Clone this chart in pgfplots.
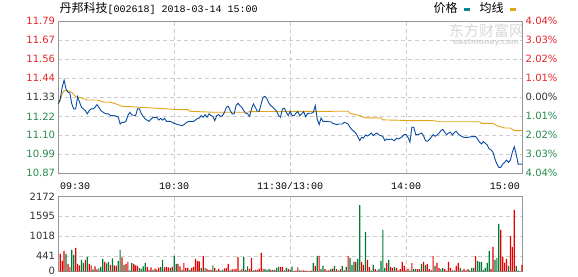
\documentclass[border=0pt]{standalone}
\usepackage{fontspec}
\setmainfont{DejaVu Sans}
\newfontfamily\cjk{Noto Sans CJK SC}
\newfontfamily\mono{Liberation Mono}
\usepackage{pgfplots}
\pgfplotsset{compat=1.18}
\definecolor{upred}{RGB}{230,36,42}
\definecolor{dngreen}{RGB}{38,138,78}
\definecolor{midgray}{RGB}{51,51,51}
\definecolor{barred}{RGB}{232,0,0}
\definecolor{bargreen}{RGB}{0,122,55}
\definecolor{priceblue}{RGB}{10,75,160}
\definecolor{avggold}{RGB}{227,163,26}
\definecolor{legteal}{RGB}{0,140,140}
\definecolor{gridgray}{RGB}{205,205,205}
\definecolor{framegray}{RGB}{150,150,150}
\definecolor{wmgray}{RGB}{215,215,215}
\pgfplotsset{
  panel/.style={
    anchor=south west, width=463.7bp, scale only axis,
    xmin=0, xmax=240, xtick={60,120,180}, xticklabels={},
    grid=major,
    major grid style={gridgray, line width=0.8bp, dash pattern=on 4bp off 3bp},
    major tick length=0pt,
    axis line style={framegray, line width=1bp},
    yticklabel style={font=\fontsize{10bp}{12bp}\selectfont, anchor=east, inner sep=0pt, xshift=-3bp},
    clip=false,
  }
}
\begin{document}
\begin{tikzpicture}[x=1bp,y=1bp]
\path[use as bounding box] (0,0) rectangle (578,276);
% watermark
\node[text=wmgray, font=\cjk\fontsize{15bp}{15bp}\selectfont, inner sep=0pt] at (486.5,245) {东方财富网};
\node[text=wmgray, font=\bfseries\fontsize{7.5bp}{8bp}\selectfont, inner sep=0pt] at (486,233.5) {eastmoney.com};
% price panel
\begin{axis}[panel,
  at={(58.3bp,102.7bp)}, height=152bp,
  ymin=10.8723, ymax=11.7877,
  ytick={10.8723,10.9867,11.1012,11.2156,11.33,11.4444,11.5589,11.6733,11.7877},
  yticklabels={\textcolor{dngreen}{10.87},\textcolor{dngreen}{10.99},\textcolor{dngreen}{11.10},\textcolor{dngreen}{11.22},\textcolor{midgray}{11.33},\textcolor{upred}{11.44},\textcolor{upred}{11.56},\textcolor{upred}{11.67},\textcolor{upred}{11.79}},
]
\addplot[avggold, line width=0.9bp] coordinates {
(0,11.290)(1,11.310)(2,11.350)(3,11.370)(5,11.370)(7,11.360)(9,11.334)(12,11.326)(15,11.314)(20,11.314)(24,11.300)(27,11.300)(30,11.290)(33,11.276)(42,11.270)(51,11.264)(62,11.256)(67,11.256)(68,11.246)(80,11.240)(98,11.240)(99,11.244)(150,11.246)(151,11.234)(156,11.220)(159,11.206)(167,11.206)(168,11.194)(182,11.190)(195,11.189)(196,11.183)(218,11.183)(219,11.173)(225,11.173)(227,11.159)(231,11.145)(234,11.145)(236,11.129)(240,11.129)
};
\addplot[priceblue, line width=0.9bp] coordinates {
(0,11.290)(1,11.320)(2,11.390)(3,11.434)(4,11.380)(5,11.360)(6,11.356)(7,11.290)(8,11.260)(9,11.260)
(10,11.334)(11,11.300)(12,11.270)(13,11.260)(14,11.250)(15,11.230)(16,11.250)(17,11.260)(18,11.260)(19,11.270)
(20,11.286)(21,11.270)(22,11.250)(24,11.234)(25,11.230)(26,11.230)(27,11.220)(29,11.220)(30,11.215)(31,11.213)
(32,11.169)(33,11.179)(34,11.179)(35,11.185)(36,11.220)(37,11.240)(38,11.224)(40,11.220)(41,11.260)(42,11.260)
(43,11.230)(44,11.215)(45,11.199)(47,11.185)(48,11.199)(49,11.209)(51,11.209)(52,11.193)(53,11.203)(54,11.193)
(55,11.203)(56,11.185)(58,11.185)(60,11.173)(62,11.165)(63,11.163)(64,11.159)(65,11.165)(66,11.175)(67,11.183)
(68,11.185)(70,11.185)(71,11.193)(72,11.203)(73,11.205)(74,11.220)(75,11.210)(76,11.226)(77,11.210)(78,11.230)
(79,11.220)(80,11.214)(81,11.189)(82,11.220)(83,11.226)(84,11.214)(85,11.220)(86,11.240)(87,11.270)(88,11.276)
(89,11.250)(90,11.230)(91,11.230)(92,11.280)(93,11.294)(94,11.280)(95,11.270)(96,11.250)(97,11.234)(98,11.230)
(99,11.215)(100,11.260)(101,11.290)(102,11.270)(103,11.246)(104,11.246)(105,11.290)(106,11.330)(107,11.336)(108,11.320)
(109,11.294)(110,11.280)(111,11.270)(112,11.258)(113,11.246)(114,11.220)(115,11.210)(116,11.260)(117,11.264)(118,11.240)
(119,11.220)(120,11.246)(121,11.220)(122,11.220)(123,11.234)(124,11.244)(125,11.220)(126,11.230)(127,11.244)(128,11.213)
(129,11.232)(130,11.234)(131,11.234)(132,11.240)(133,11.280)(134,11.199)(135,11.165)(136,11.205)(137,11.185)(138,11.185)
(139,11.185)(140,11.183)(141,11.183)(142,11.173)(143,11.170)(144,11.165)(145,11.169)(146,11.169)(147,11.169)(148,11.179)
(149,11.175)(150,11.169)(151,11.149)(152,11.135)(153,11.125)(154,11.115)(155,11.093)(156,11.069)(157,11.089)(158,11.085)
(159,11.103)(160,11.097)(161,11.105)(162,11.115)(163,11.099)(164,11.109)(165,11.115)(166,11.103)(167,11.099)(168,11.093)
(169,11.069)(170,11.079)(171,11.075)(172,11.079)(173,11.075)(174,11.069)(175,11.083)(176,11.079)(177,11.085)(178,11.093)
(179,11.105)(180,11.105)(181,11.089)(182,11.060)(183,11.150)(184,11.149)(185,11.105)(186,11.105)(187,11.109)(188,11.115)
(189,11.099)(190,11.069)(191,11.065)(192,11.075)(193,11.089)(194,11.105)(195,11.095)(196,11.103)(197,11.113)(198,11.129)
(199,11.137)(200,11.119)(201,11.105)(202,11.115)(203,11.119)(204,11.103)(205,11.119)(206,11.125)(207,11.109)(208,11.101)
(209,11.093)(210,11.089)(212,11.089)(214,11.093)(216,11.093)(217,11.079)(218,11.060)(219,11.049)(220,11.063)(221,11.053)
(222,11.043)(223,11.019)(224,11.013)(225,10.999)(226,10.958)(227,10.928)(228,10.908)(229,10.908)(230,10.928)(231,10.938)
(232,10.952)(233,10.938)(234,10.954)(235,10.999)(236,11.033)(237,10.988)(238,10.928)(240,10.928)
};
% right-hand percentage labels
\begin{scope}[every node/.style={anchor=west, inner sep=0pt, xshift=3.5bp, font=\fontsize{10bp}{12bp}\selectfont}]
\node[text=upred] at (axis cs:240,11.7877) {4.04\%};
\node[text=upred] at (axis cs:240,11.6733) {3.03\%};
\node[text=upred] at (axis cs:240,11.5589) {2.02\%};
\node[text=upred] at (axis cs:240,11.4444) {1.01\%};
\node[text=midgray] at (axis cs:240,11.33) {0.00\%};
\node[text=dngreen] at (axis cs:240,11.2156) {1.01\%};
\node[text=dngreen] at (axis cs:240,11.1012) {2.02\%};
\node[text=dngreen] at (axis cs:240,10.9867) {3.03\%};
\node[text=dngreen] at (axis cs:240,10.8723) {4.04\%};
\end{scope}
% time labels
\begin{scope}[every node/.style={inner sep=0pt, yshift=-12.7bp, font=\mono\fontsize{10bp}{12bp}\selectfont, text=black}]
\node[anchor=west, xshift=1.7bp] at (axis cs:0,10.8723) {09:30};
\node at (axis cs:60,10.8723) {10:30};
\node at (axis cs:120,10.8723) {11:30/13:00};
\node at (axis cs:180,10.8723) {14:00};
\node[anchor=east, xshift=-2bp] at (axis cs:240,10.8723) {15:00};
\end{scope}
\end{axis}
% volume panel
\begin{axis}[panel,
  at={(58.3bp,4.7bp)}, height=75bp,
  ymin=0, ymax=2172,
  ytick={0,441,1018,1595,2172},
  yticklabels={0,441,1018,1595,2172},
  yticklabel style={text=midgray},
]
\addplot[ybar, bar width=1.2bp, bar shift=0pt, fill=barred, draw=none] coordinates {
(1,502)(2,300)(3,589)(5,212)(6,125)(9,676)(10,212)(11,174)(14,328)(16,212)(17,174)(19,145)(20,58)(24,270)(27,183)(29,174)(30,154)(33,405)(35,212)(36,270)(39,212)(40,174)(41,154)(46,125)(47,39)(48,116)(50,77)(51,50)(52,106)(55,116)(56,125)(57,116)(59,125)(62,212)(63,145)(65,241)(66,96)(67,96)(69,96)(70,125)(71,357)(72,299)(73,290)(75,444)(77,68)(78,39)(79,39)(81,96)(83,68)(86,87)(87,96)(88,212)(90,58)(91,68)(92,68)(93,415)(95,68)(97,39)(99,68)(100,386)(102,39)(103,39)(104,77)(105,531)(106,68)(110,39)(112,39)(115,125)(116,125)(119,68)
(122,15)(123,20)(124,116)(126,20)(127,30)(128,20)(129,15)(130,15)(131,20)(133,154)(135,444)(138,60)(139,30)(140,30)(142,80)(144,60)(146,60)(148,30)(150,444)(154,270)(157,270)(158,183)(160,328)(161,125)(164,60)(165,30)(170,241)(172,125)(173,96)(175,96)(176,30)(177,60)(178,270)(179,154)(180,30)(181,68)(183,241)(186,60)(187,60)(189,270)(191,212)(192,60)(193,30)(194,444)(196,241)(197,96)(200,60)(201,20)(202,270)(203,96)(205,30)(206,154)(207,241)(209,30)(210,60)(211,30)(212,60)(216,444)(224,60)(225,705)(229,1197)(230,415)(231,241)(232,357)(234,1023)(235,705)(236,1776)(240,183)
};
\addplot[ybar, bar width=1.2bp, bar shift=0pt, fill=bargreen, draw=none] coordinates {
(4,502)(7,618)(8,473)(12,328)(13,241)(15,415)(18,58)(21,87)(22,125)(23,357)(25,232)(26,270)(28,376)(31,299)(32,618)(34,183)(37,29)(38,241)(42,96)(43,68)(44,145)(45,241)(49,39)(53,125)(54,328)(58,96)(60,444)(61,212)(64,39)(68,39)(74,96)(76,96)(80,174)(82,30)(84,19)(85,39)(89,29)(94,29)(96,415)(98,145)(101,29)(107,68)(108,40)(109,68)(111,39)(113,96)(114,125)(117,29)(118,96)(120,40)
(121,135)(125,30)(132,241)(134,444)(136,60)(137,154)(141,60)(143,154)(145,30)(147,154)(149,125)(151,386)(152,183)(153,270)(155,357)(156,1920)(159,1139)(162,30)(163,183)(166,60)(167,299)(168,1197)(169,96)(171,328)(174,125)(182,30)(184,60)(185,60)(188,212)(190,183)(195,154)(198,60)(199,96)(204,30)(208,96)(213,30)(214,96)(215,96)(217,299)(218,270)(219,270)(220,40)(221,96)(222,241)(223,589)(226,328)(227,386)(228,1371)(233,154)(237,154)(238,30)
};
\end{axis}
% title and legend
\node[anchor=base west, inner sep=0pt] at (59.3,263.5) {{\cjk\fontsize{12bp}{14bp}\selectfont 丹邦科技}{\mono\fontsize{10bp}{12bp}\selectfont [002618] 2018-03-14 15:00}};
\node[anchor=base west, inner sep=0pt, font=\cjk\fontsize{12bp}{14bp}\selectfont] at (433.5,263.5) {价格};
\fill[legteal] (464,265.3) rectangle (470,268.3);
\node[anchor=base west, inner sep=0pt, font=\cjk\fontsize{12bp}{14bp}\selectfont] at (479.5,263.5) {均线};
\fill[avggold] (510,265.3) rectangle (516,268.3);
\end{tikzpicture}
\end{document}
